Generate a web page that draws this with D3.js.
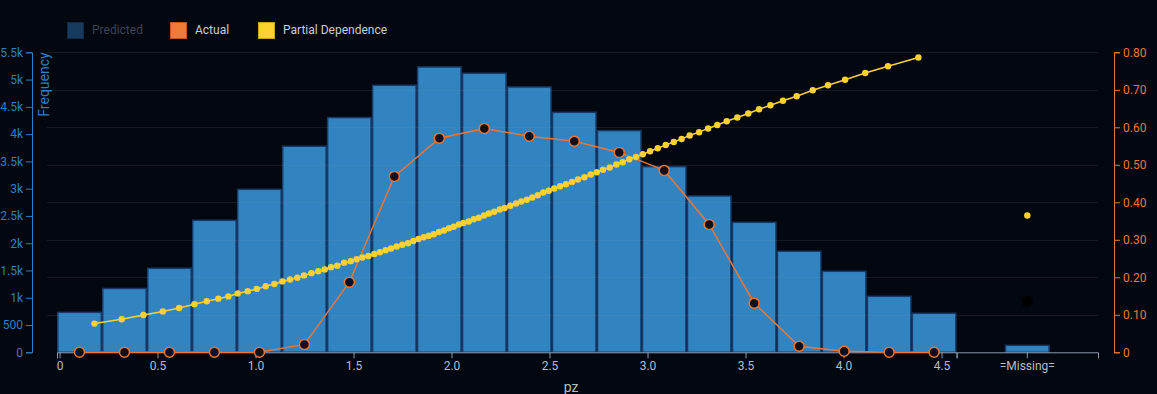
<!DOCTYPE html>
<html><head><meta charset="utf-8">
<script src="https://cdn.jsdelivr.net/npm/d3@7"></script>
<style>
html,body{margin:0;padding:0;background:#03070f;}
svg{display:block;font-family:Roboto,"Noto Sans",sans-serif;}
</style></head>
<body><svg id="c" width="1157" height="394"></svg>
<script>
// ---- data ----
const xDomain = [-0.013, 4.577];
const binCount = 20;
const frequency = [733, 1170, 1540, 2420, 2988, 3777, 4303, 4895, 5231, 5115, 4864, 4400, 4064, 3404, 2866, 2383, 1852, 1485, 1027, 715];
const actual = [0, 0, 0, 0, 0, 0.021, 0.187, 0.469, 0.571, 0.597, 0.576, 0.563, 0.533, 0.485, 0.341, 0.131, 0.016, 0.003, 0, 0];
const missingLabel = "=Missing=";
const missingFrequency = 128;
const missingActual = 0.136;
const missingPD = 0.365;
const pdX = [0.178,0.317,0.428,0.527,0.610,0.688,0.751,0.810,0.861,0.909,0.960,1.006,1.052,1.096,1.137,1.176,1.213,1.247,1.285,1.320,1.353,1.385,1.417,1.452,1.486,1.516,1.545,1.576,1.606,1.635,1.664,1.691,1.720,1.749,1.778,1.805,1.831,1.858,1.884,1.909,1.936,1.962,1.987,2.011,2.037,2.060,2.088,2.113,2.139,2.166,2.191,2.218,2.246,2.271,2.300,2.329,2.356,2.384,2.412,2.440,2.468,2.496,2.524,2.554,2.584,2.615,2.645,2.678,2.710,2.741,2.773,2.807,2.841,2.873,2.907,2.941,2.976,3.013,3.052,3.093,3.134,3.174,3.215,3.263,3.309,3.356,3.404,3.458,3.514,3.569,3.627,3.691,3.761,3.843,3.921,4.008,4.111,4.227,4.382];
const pdY = [0.0765,0.088,0.0995,0.109,0.118,0.128,0.136,0.143,0.149,0.157,0.163,0.169,0.176,0.182,0.189,0.194,0.199,0.205,0.211,0.216,0.221,0.227,0.231,0.239,0.243,0.248,0.253,0.257,0.262,0.267,0.272,0.277,0.282,0.287,0.291,0.297,0.302,0.307,0.311,0.315,0.321,0.325,0.331,0.335,0.341,0.345,0.349,0.355,0.359,0.365,0.370,0.375,0.381,0.385,0.391,0.397,0.402,0.407,0.413,0.419,0.426,0.431,0.437,0.443,0.448,0.454,0.461,0.467,0.474,0.480,0.487,0.493,0.501,0.507,0.515,0.521,0.528,0.536,0.544,0.553,0.561,0.569,0.578,0.587,0.597,0.606,0.616,0.626,0.637,0.648,0.659,0.671,0.683,0.699,0.712,0.727,0.745,0.763,0.786];
const xTicks = [0, 0.5, 1.0, 1.5, 2.0, 2.5, 3.0, 3.5, 4.0, 4.5];
const xTickLabels = ["0", "0.5", "1.0", "1.5", "2.0", "2.5", "3.0", "3.5", "4.0", "4.5"];
const leftTicks = [0, 500, 1000, 1500, 2000, 2500, 3000, 3500, 4000, 4500, 5000, 5500];
const leftTickLabels = ["0", "500", "1k", "1.5k", "2k", "2.5k", "3k", "3.5k", "4k", "4.5k", "5k", "5.5k"];
const rightTicks = [0, 0.1, 0.2, 0.3, 0.4, 0.5, 0.6, 0.7, 0.8];
const rightTickLabels = ["0", "0.10", "0.20", "0.30", "0.40", "0.50", "0.60", "0.70", "0.80"];
const legendItems = ["Predicted", "Actual", "Partial Dependence"];

// ---- layout ----
const svg = d3.select("#c");
const yTop = 52.3, yBottom = 352.3;
const numL = 57, numR = 956.6, missR = 1098;
const leftAxisX = 32, rightAxisX = 1114;
const C = {bar:"#3284c0", barStroke:"#163a69", actual:"#ec7636", pd:"#fdd130", leftAxis:"#2f7fc1", grid:"rgba(140,150,170,0.13)", xaxis:"#8b9bb0", xtext:"#b4bcc6"};

const x = d3.scaleLinear().domain(xDomain).range([numL, numR]);
const xm = d3.scaleBand().domain([missingLabel]).range([numR, missR]);
const yL = d3.scaleLinear().domain([0, 5500]).range([yBottom, yTop]);
const yR = d3.scaleLinear().domain([0, 0.8]).range([yBottom, yTop]);

const binW = (xDomain[1] - xDomain[0]) / binCount;
const bins = frequency.map((f, i) => ({lo: xDomain[0] + i * binW, hi: xDomain[0] + (i + 1) * binW, f, a: actual[i]}));

// bars
svg.append("g").selectAll("rect").data(bins).join("rect")
  .attr("x", d => x(d.lo) + 0.75).attr("width", d => x(d.hi) - x(d.lo) - 1.5)
  .attr("y", d => yL(d.f)).attr("height", d => yL(0) - yL(d.f))
  .attr("fill", C.bar).attr("stroke", C.barStroke).attr("stroke-width", 1.5);
const mbw = x(binW) - x(0);
svg.append("rect")
  .attr("x", xm(missingLabel) + xm.bandwidth() / 2 - mbw / 2 + 0.75).attr("width", mbw - 1.5)
  .attr("y", yL(missingFrequency)).attr("height", yL(0) - yL(missingFrequency))
  .attr("fill", C.bar).attr("stroke", C.barStroke).attr("stroke-width", 1.5);

// grid
svg.append("g").selectAll("line").data(rightTicks.slice(1)).join("line")
  .attr("x1", 47).attr("x2", missR).attr("y1", d => Math.round(yR(d)) + 0.5).attr("y2", d => Math.round(yR(d)) + 0.5)
  .attr("stroke", C.grid).attr("stroke-width", 1);

// left axis
const gl = svg.append("g").attr("transform", `translate(${leftAxisX},0)`)
  .call(d3.axisLeft(yL).tickValues(leftTicks).tickFormat((d, i) => leftTickLabels[i]));
gl.selectAll("path,line").attr("stroke", C.leftAxis);
gl.selectAll("text").attr("fill", C.leftAxis).attr("font-size", 12).attr("font-family", "Roboto");
svg.append("text").attr("transform", `translate(49,${yTop}) rotate(-90)`)
  .attr("text-anchor", "end").attr("fill", C.leftAxis).attr("font-size", 14).text("Frequency");

// right axis
const gr = svg.append("g").attr("transform", `translate(${rightAxisX},0)`)
  .call(d3.axisRight(yR).tickValues(rightTicks).tickFormat((d, i) => rightTickLabels[i]));
gr.selectAll("path,line").attr("stroke", C.actual);
gr.selectAll("text").attr("fill", C.actual).attr("font-size", 12).attr("font-family", "Roboto");

// x axes
const gx = svg.append("g").attr("transform", `translate(0,${yBottom})`)
  .call(d3.axisBottom(x).tickValues(xTicks).tickFormat((d, i) => xTickLabels[i]));
const gxm = svg.append("g").attr("transform", `translate(0,${yBottom})`)
  .call(d3.axisBottom(xm));
[gx, gxm].forEach(g => {
  g.selectAll("path,line").attr("stroke", C.xaxis);
  g.selectAll("text").attr("fill", C.xtext).attr("font-size", 12).attr("font-family", "Roboto");
});
svg.append("text").attr("x", 571).attr("y", 392).attr("text-anchor", "middle")
  .attr("fill", C.xtext).attr("font-size", 14).text("pz");

// actual line
const cx = d => x((d.lo + d.hi) / 2);
svg.append("path").datum(bins)
  .attr("d", d3.line().x(cx).y(d => yR(d.a)))
  .attr("fill", "none").attr("stroke", C.actual).attr("stroke-width", 1.5);
svg.append("g").selectAll("circle").data(bins).join("circle")
  .attr("cx", cx).attr("cy", d => yR(d.a)).attr("r", 5)
  .attr("fill", "#0a0f1a").attr("stroke", C.actual).attr("stroke-width", 1.5);
const mx = xm(missingLabel) + xm.bandwidth() / 2;
svg.append("circle").attr("cx", mx).attr("cy", yR(missingActual)).attr("r", 5.5).attr("fill", "#000");

// partial dependence
const pd = pdX.map((v, i) => [v, pdY[i]]);
svg.append("path").datum(pd)
  .attr("d", d3.line().x(d => x(d[0])).y(d => yR(d[1])))
  .attr("fill", "none").attr("stroke", C.pd).attr("stroke-width", 1.5);
svg.append("g").selectAll("circle").data(pd).join("circle")
  .attr("cx", d => x(d[0])).attr("cy", d => yR(d[1])).attr("r", 3.2).attr("fill", C.pd);
svg.append("circle").attr("cx", mx).attr("cy", yR(missingPD)).attr("r", 3.2).attr("fill", C.pd);

// legend
const legendColors = ["#173a5e", "#ef7b39", "#fdd130"];
const legendStrokes = ["#0f2a47", "#b85a24", "#c9a21f"];
const legendText = ["#3a4352", "#c8cdd3", "#c8cdd3"];
const legendX = [67, 170, 258];
const lg = svg.append("g").selectAll("g").data(legendItems).join("g")
  .attr("transform", (d, i) => `translate(${legendX[i]},22)`);
lg.append("rect").attr("x", 0.5).attr("y", 0.5).attr("width", 16).attr("height", 16)
  .attr("fill", (d, i) => legendColors[i]).attr("stroke", (d, i) => legendStrokes[i]);
lg.append("text").attr("x", 25).attr("y", 12).attr("font-size", 12)
  .attr("fill", (d, i) => legendText[i]).text(d => d);
</script></body></html>
